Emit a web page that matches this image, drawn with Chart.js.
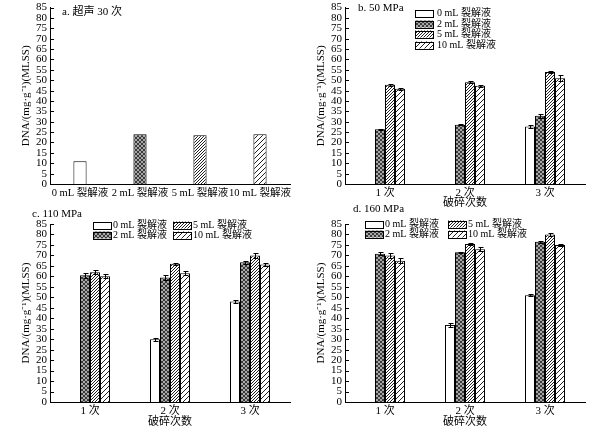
<!DOCTYPE html>
<html>
<head>
<meta charset="utf-8">
<script src="https://cdn.jsdelivr.net/npm/chart.js@4.4.0/dist/chart.umd.min.js"></script>
<style>
  body { margin: 0; background: #fff; width: 595px; height: 431px; position: relative; overflow: hidden; }
  .panel { position: absolute; }
</style>
</head>
<body>
<div class="panel" style="left:0;top:-2px;width:295px;height:212px"><canvas id="chartA"></canvas></div>
<div class="panel" style="left:295px;top:-2px;width:300px;height:212px"><canvas id="chartB"></canvas></div>
<div class="panel" style="left:0;top:200px;width:295px;height:229px"><canvas id="chartC"></canvas></div>
<div class="panel" style="left:295px;top:200px;width:300px;height:229px"><canvas id="chartD"></canvas></div>
<script>
// data
const seriesLabels = ['0 mL 裂解液', '2 mL 裂解液', '5 mL 裂解液', '10 mL 裂解液'];
const passLabels = ['1 次', '2 次', '3 次'];
const yMax = 85, yStep = 5;

// a. ultrasound 30 times
const sonicValues = [11, 24, 23.5, 24];

// b. 50 MPa  (rows = series, cols = passes)
const values50 = [[null, null, 27.7], [26.4, 28.5, 32.9], [47.8, 49, 54], [45.9, 47.4, 51]];
const errors50 = [[0, 0, 0.5], [0.3, 0.3, 1], [0.4, 0.4, 0.5], [0.4, 0.5, 1.5]];

// c. 110 MPa
const values110 = [[null, 30, 48], [60.5, 59.5, 66.7], [62, 66, 70], [60, 61.5, 65.7]];
const errors110 = [[0, 0.8, 0.6], [1.3, 1.3, 0.7], [1, 0.6, 1.3], [1, 1, 0.8]];

// d. 160 MPa
const values160 = [[null, 36.8, 51], [70.8, 71.5, 76.5], [70, 75.5, 80], [67.5, 73, 75]];
const errors160 = [[0, 0.8, 0.4], [0.8, 0.3, 0.4], [1, 0.4, 0.6], [1.2, 0.8, 0.6]];

const FONT = '"Liberation Serif", "Noto Sans CJK SC", serif';
Chart.defaults.font.family = FONT;
Chart.defaults.font.size = 11;
Chart.defaults.color = '#000';

// hatch fills
function makePattern(kind) {
  if (kind === 'open') return '#ffffff';
  const c = document.createElement('canvas');
  const g = c.getContext('2d');
  if (kind === 'cross') {
    c.width = c.height = 4;
    g.fillStyle = '#a8a8a8'; g.fillRect(0, 0, 4, 4);
    g.fillStyle = '#3a3a3a';
    for (let i = 0; i < 4; i++) { g.fillRect(i, i, 1, 1); g.fillRect(i, 3 - i, 1, 1); }
  } else {
    const n = kind === 'dense' ? 3 : 5;
    c.width = c.height = n;
    g.fillStyle = '#fff'; g.fillRect(0, 0, n, n);
    g.fillStyle = '#222';
    for (let i = 0; i < n; i++) g.fillRect(i, n - 1 - i, 1, 1);
  }
  return g.createPattern(c, 'repeat');
}
const fills = [makePattern('open'), makePattern('cross'), makePattern('dense'), makePattern('sparse')];

// inward y ticks, error bars, panel title, hatched legend
const panelDecor = {
  id: 'panelDecor',
  afterDatasetsDraw(chart) {
    const ctx = chart.ctx, y = chart.scales.y;
    ctx.save();
    ctx.strokeStyle = '#000';
    ctx.lineWidth = 1;
    chart.data.datasets.forEach((ds, di) => {
      if (!ds.errors) return;
      chart.getDatasetMeta(di).data.forEach((bar, i) => {
        const v = ds.data[i], e = ds.errors[i];
        if (v == null || !e) return;
        const x = Math.round(bar.x) + 0.5;
        const t = Math.round(y.getPixelForValue(v + e)) + 0.5;
        const b = Math.round(y.getPixelForValue(v - e)) + 0.5;
        ctx.beginPath();
        ctx.moveTo(x, t); ctx.lineTo(x, b);
        ctx.moveTo(x - 2, t); ctx.lineTo(x + 3, t);
        ctx.moveTo(x - 2, b); ctx.lineTo(x + 3, b);
        ctx.stroke();
      });
    });
    ctx.restore();
  },
  afterDraw(chart, args, opts) {
    const ctx = chart.ctx, area = chart.chartArea, y = chart.scales.y;
    ctx.save();
    ctx.strokeStyle = '#000';
    ctx.lineWidth = 1;
    y.ticks.forEach((t, i) => {
      const py = Math.round(y.getPixelForTick(i)) + 0.5;
      ctx.beginPath(); ctx.moveTo(area.left, py); ctx.lineTo(area.left + 4, py); ctx.stroke();
    });
    ctx.fillStyle = '#000';
    ctx.font = '11px ' + FONT;
    ctx.textBaseline = 'middle';
    ctx.fillText(opts.title, opts.tx, opts.ty);
    const lg = opts.legend;
    if (lg) {
      ctx.font = '10px ' + FONT;
      chart.data.datasets.forEach((ds, i) => {
        const col = Math.floor(i / lg.rows.length), row = i % lg.rows.length;
        const bx = lg.cols[col], by = lg.rows[row];
        ctx.fillStyle = ds.backgroundColor;
        ctx.fillRect(bx, by - 3.5, 18, 7);
        ctx.strokeRect(bx + 0.5, Math.round(by - 3.5) + 0.5, 18, 7);
        ctx.fillStyle = '#000';
        ctx.fillText(ds.label, bx + 18 + lg.gap, by + 0.5);
      });
    }
    ctx.restore();
  }
};

function makeChart(id, labels, datasets, o) {
  return new Chart(document.getElementById(id), {
    type: 'bar',
    data: { labels: labels, datasets: datasets },
    plugins: [panelDecor],
    options: {
      responsive: true,
      maintainAspectRatio: false,
      animation: false,
      layout: { padding: { top: o.top, right: o.right, left: 0, bottom: 0 } },
      datasets: { bar: { barPercentage: o.barPct, categoryPercentage: o.catPct, borderWidth: 1, borderColor: '#000' } },
      plugins: {
        legend: { display: false },
        tooltip: { enabled: false },
        panelDecor: { title: o.title, tx: o.tx, ty: o.ty, legend: o.legend }
      },
      scales: {
        x: {
          grid: { display: false, drawTicks: false },
          border: { color: '#000', width: 1 },
          ticks: { padding: 3, autoSkip: false, maxRotation: 0, minRotation: 0, font: { size: o.xFont || 11 } },
          title: { display: !!o.xTitle, text: o.xTitle || '', padding: { top: 0, bottom: 0 }, font: { size: 11 } },
          afterFit: s => { s.height = o.xHeight; }
        },
        y: {
          min: 0, max: yMax,
          grid: { display: false, drawTicks: false },
          border: { color: '#000', width: 1 },
          ticks: { stepSize: yStep, autoSkip: false, padding: 3, font: { size: 11 } },
          title: { display: true, text: 'DNA/(mg·g⁻¹)(MLSS)', padding: { top: 20, bottom: 0 }, font: { size: 11 } },
          afterFit: s => { s.width = 50; }
        }
      }
    }
  });
}

function groupedSets(values, errors) {
  return seriesLabels.map((lab, i) => ({
    label: lab, data: values[i], errors: errors[i], backgroundColor: fills[i]
  }));
}

makeChart('chartA', seriesLabels,
  [{ label: '超声 30 次', data: sonicValues, backgroundColor: fills }],
  { top: 7, right: 5, xHeight: 26, barPct: 0.22, catPct: 1, xFont: 10.5, title: 'a. 超声 30 次', tx: 62, ty: 14 });

makeChart('chartB', passLabels, groupedSets(values50, errors50),
  { top: 7, right: 10, xHeight: 26, barPct: 1, catPct: 0.5, xTitle: '破碎次数',
    title: 'b. 50 MPa', tx: 63, ty: 10,
    legend: { cols: [120], rows: [15, 26, 36, 47], gap: 4 } });

makeChart('chartC', passLabels, groupedSets(values110, errors110),
  { top: 24, right: 5, xHeight: 27, barPct: 1, catPct: 0.5, xTitle: '破碎次数',
    title: 'c. 110 MPa', tx: 32, ty: 14,
    legend: { cols: [93, 173], rows: [25, 35], gap: 2 } });

makeChart('chartD', passLabels, groupedSets(values160, errors160),
  { top: 24, right: 10, xHeight: 27, barPct: 1, catPct: 0.5, xTitle: '破碎次数',
    title: 'd. 160 MPa', tx: 58, ty: 9,
    legend: { cols: [70, 153], rows: [24, 34], gap: 2 } });
</script>
</body>
</html>
